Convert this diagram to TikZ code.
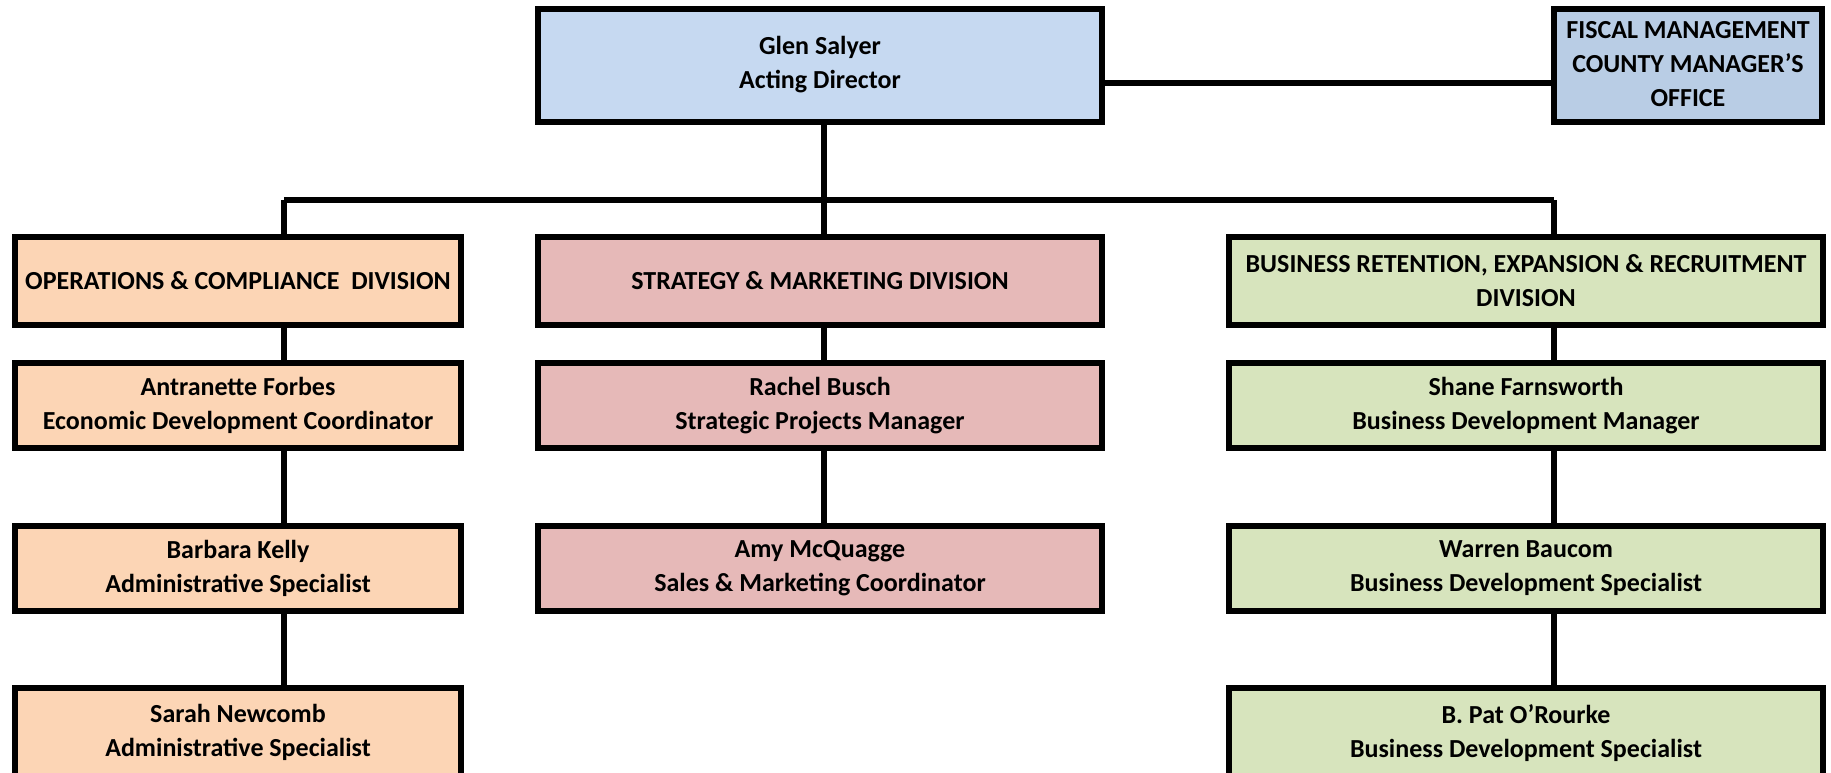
\documentclass[tikz,border=0pt]{standalone}
\usepackage{fontspec}
\setmainfont{Carlito}
\usetikzlibrary{calc}
\definecolor{topblue}{HTML}{C6D9F1}
\definecolor{fiscalblue}{HTML}{B9CDE5}
\definecolor{opsorange}{HTML}{FCD5B5}
\definecolor{smpink}{HTML}{E6B9B8}
\definecolor{brgreen}{HTML}{D7E4BD}
\begin{document}
\begin{tikzpicture}[x=1pt,y=-1pt,
  box/.style={draw=black,line width=6pt,rectangle,inner sep=0pt,align=center,
    font=\bfseries\fontsize{26}{34}\selectfont},
  conn/.style={line width=6pt,draw=black}]
\useasboundingbox (0,0) rectangle (1831,772);
% top
\node[box,fill=topblue,minimum width=563.5pt,minimum height=113pt] (top) at (820,65) {Glen Salyer\\Acting Director};
\node[box,fill=fiscalblue,minimum width=268.5pt,minimum height=112.5pt] (fiscal) at (1688,65.25)
  {\raisebox{5pt}{\begin{tabular}{@{}c@{}}FISCAL MANAGEMENT\\COUNTY MANAGER'S\\OFFICE\end{tabular}}};
% left column
\node[box,fill=opsorange,minimum width=446pt,minimum height=88pt] (ops) at (238,281) {OPERATIONS \& COMPLIANCE~ DIVISION};
\node[box,fill=opsorange,minimum width=446pt,minimum height=85pt] (af) at (238,405.5) {Antranette Forbes\\Economic Development Coordinator};
\node[box,fill=opsorange,minimum width=446pt,minimum height=85pt] (bk) at (238,568) {Barbara Kelly\\Administrative Specialist};
\node[box,fill=opsorange,minimum width=446pt,minimum height=90.5pt] (sn) at (238,732.75) {Sarah Newcomb\\Administrative Specialist};
% middle column
\node[box,fill=smpink,minimum width=563.5pt,minimum height=88pt] (sm) at (820,281) {STRATEGY \& MARKETING DIVISION};
\node[box,fill=smpink,minimum width=563.5pt,minimum height=85pt] (rb) at (820,405.5) {Rachel Busch\\Strategic Projects Manager};
\node[box,fill=smpink,minimum width=563.5pt,minimum height=85pt] (am) at (820,568) {Amy McQuagge\\Sales \& Marketing Coordinator};
% right column
\node[box,fill=brgreen,minimum width=594pt,minimum height=88pt] (br) at (1526,281) {BUSINESS RETENTION, EXPANSION \& RECRUITMENT\\DIVISION};
\node[box,fill=brgreen,minimum width=594pt,minimum height=85pt] (sf) at (1526,405.5) {Shane Farnsworth\\Business Development Manager};
\node[box,fill=brgreen,minimum width=594pt,minimum height=85pt] (wb) at (1526,568) {Warren Baucom\\Business Development Specialist};
\node[box,fill=brgreen,minimum width=594pt,minimum height=90.5pt] (po) at (1526,732.75) {B. Pat O'Rourke\\Business Development Specialist};
% connectors
\coordinate (hl) at (0,82.5);
\coordinate (lx) at (284,200);
\coordinate (mx) at (824,200);
\coordinate (rx) at (1554,200);
\draw[conn] (top.east |- hl) -- (fiscal.west |- hl);
\draw[conn] (top.south -| mx) -- (mx);
\draw[conn] (lx) -- (rx);
\draw[conn] (lx) -- (ops.north -| lx);
\draw[conn] (mx) -- (sm.north -| mx);
\draw[conn] (rx) -- (br.north -| rx);
\draw[conn] (ops.south -| lx) -- (af.north -| lx);
\draw[conn] (af.south -| lx) -- (bk.north -| lx);
\draw[conn] (bk.south -| lx) -- (sn.north -| lx);
\draw[conn] (sm.south -| mx) -- (rb.north -| mx);
\draw[conn] (rb.south -| mx) -- (am.north -| mx);
\draw[conn] (br.south -| rx) -- (sf.north -| rx);
\draw[conn] (sf.south -| rx) -- (wb.north -| rx);
\draw[conn] (wb.south -| rx) -- (po.north -| rx);
\end{tikzpicture}
\end{document}
